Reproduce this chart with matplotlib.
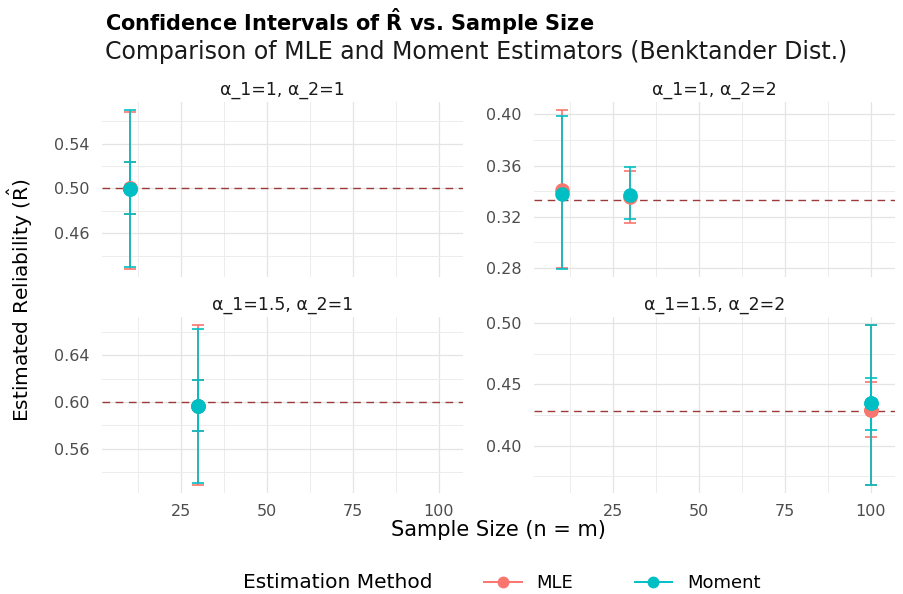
import matplotlib
matplotlib.use("Agg")
import matplotlib.pyplot as plt
from matplotlib.ticker import MultipleLocator
from matplotlib.lines import Line2D

# facet panels (alpha_1, alpha_2) and true reliability for each
facet_labels = ["α_1=1, α_2=1", "α_1=1, α_2=2", "α_1=1.5, α_2=1", "α_1=1.5, α_2=2"]
true_R = [0.5, 0.3333, 0.6, 0.4286]
y_major_step = [0.04, 0.04, 0.04, 0.05]
y_major_offset = [0.02, 0.0, 0.0, 0.0]

# one row per confidence interval
ci_facet = [0, 0, 0, 0, 1, 1, 1, 1, 2, 2, 2, 2, 3, 3, 3, 3]
ci_n = [10, 10, 10, 10, 10, 10, 30, 30, 30, 30, 30, 30, 100, 100, 100, 100]
ci_method = ["MLE", "Moment", "MLE", "Moment",
             "MLE", "Moment", "MLE", "Moment",
             "MLE", "Moment", "MLE", "Moment",
             "MLE", "Moment", "MLE", "Moment"]
ci_est = [0.500, 0.4995, 0.500, 0.4995,
          0.341, 0.338, 0.335, 0.3368,
          0.5965, 0.597, 0.5965, 0.597,
          0.429, 0.4345, 0.429, 0.4345]
ci_lower = [0.4282, 0.4299, 0.4773, 0.4770,
            0.2795, 0.2790, 0.3148, 0.3180,
            0.5292, 0.5309, 0.5749, 0.5752,
            0.3679, 0.3682, 0.4068, 0.4128]
ci_upper = [0.5685, 0.5700, 0.5236, 0.5232,
            0.4035, 0.3985, 0.3556, 0.3590,
            0.6657, 0.6623, 0.6192, 0.6190,
            0.4986, 0.4982, 0.4519, 0.4555]

methods = ["MLE", "Moment"]
colors = {"MLE": "#F8766D", "Moment": "#00BFC4"}
x_ticks = [25, 50, 75, 100]

W, H = 904, 594
fig = plt.figure(figsize=(W / 100, H / 100), dpi=100)

# panel boxes in pixels: left, top, right, bottom
boxes = [(102, 102, 463, 277), (534, 102, 895, 277),
         (102, 317, 463, 493), (534, 317, 895, 493)]

for i, (l, t, r, b) in enumerate(boxes):
    ax = fig.add_axes([l / W, 1 - b / H, (r - l) / W, (b - t) / H])
    rows = [k for k in range(len(ci_facet)) if ci_facet[k] == i]

    for m in methods:
        sel = [k for k in rows if ci_method[k] == m]
        xs = [ci_n[k] for k in sel]
        ys = [ci_est[k] for k in sel]
        err = [[ci_est[k] - ci_lower[k] for k in sel],
               [ci_upper[k] - ci_est[k] for k in sel]]
        ax.errorbar(xs, ys, yerr=err, fmt="none", ecolor=colors[m],
                    elinewidth=1.4, capsize=4.3, capthick=1.4, alpha=0.85, zorder=3)
    ax.axhline(true_R[i], color="#9c3a3a", lw=1.0, ls=(0, (5.5, 4)), zorder=2)
    for m in methods:
        sel = [k for k in rows if ci_method[k] == m]
        ax.plot([ci_n[k] for k in sel], [ci_est[k] for k in sel], "o",
                ms=10.5, color=colors[m], mec="none", zorder=4)

    ax.set_xlim(2, 107)
    ax.margins(y=0.05)
    ax.set_xticks(x_ticks)
    ax.xaxis.set_minor_locator(MultipleLocator(12.5))
    ax.yaxis.set_major_locator(MultipleLocator(y_major_step[i], offset=y_major_offset[i]))
    ax.yaxis.set_minor_locator(MultipleLocator(y_major_step[i] / 2))
    ax.grid(which="major", color="#e4e4e4", lw=0.9)
    ax.grid(which="minor", color="#ececec", lw=0.7)
    ax.set_axisbelow(True)
    for s in ax.spines.values():
        s.set_visible(False)
    ax.tick_params(which="both", length=0, labelsize=11.5, labelcolor="#4d4d4d")
    ax.tick_params(axis="y", pad=9)
    ax.tick_params(axis="x", pad=8)
    if i < 2:
        ax.tick_params(axis="x", labelbottom=False)
    ax.set_title(facet_labels[i], fontsize=12.5, color="#1a1a1a", pad=5)

fig.text(105 / W, 1 - 22 / H, r"Confidence Intervals of $\mathbf{\hat{R}}$ vs. Sample Size",
         fontsize=15, fontweight="bold", va="center", ha="left")
fig.text(105 / W, 1 - 52 / H, "Comparison of MLE and Moment Estimators (Benktander Dist.)",
         fontsize=17, va="center", ha="left", color="#1a1a1a")
fig.text(498 / W, 1 - 530 / H, "Sample Size (n = m)", fontsize=15, ha="center", va="center")
fig.text(20 / W, 1 - 300 / H, r"Estimated Reliability ($\hat{\mathrm{R}}$)", fontsize=14.5,
         rotation=90, ha="center", va="center")

# legend at the bottom with title on the left
fig.text(243 / W, 1 - 583 / H, "Estimation Method", fontsize=14.5, ha="left", va="center")
handles = [Line2D([], [], color=colors[m], marker="o", ms=8.5, lw=1.4, mec="none") for m in methods]
fig.legend(handles, methods, loc="center left", bbox_to_anchor=(484 / W, 1 - 583 / H),
           ncol=2, frameon=False, fontsize=13, handlelength=2.1, handletextpad=0.8,
           columnspacing=3.4, borderaxespad=0, borderpad=0)

fig.savefig("out.png", dpi=100)
